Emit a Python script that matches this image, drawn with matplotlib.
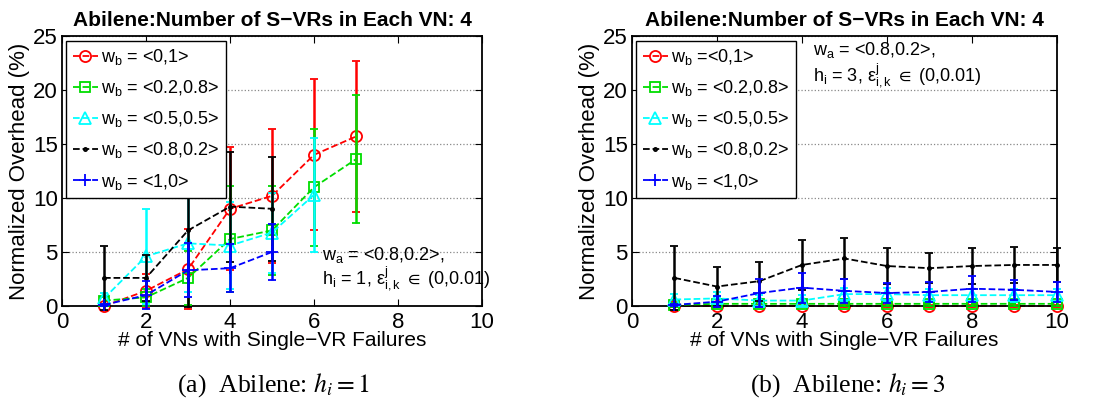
import matplotlib
matplotlib.use("Agg")
import matplotlib.pyplot as plt
from matplotlib.lines import Line2D

plt.rcParams['font.family'] = ['Liberation Sans', 'DejaVu Sans']
plt.rcParams['mathtext.fontset'] = 'custom'
plt.rcParams['mathtext.rm'] = 'Liberation Sans'
plt.rcParams['mathtext.it'] = 'Liberation Sans'
plt.rcParams['mathtext.fallback'] = 'stixsans'

# ---- panel (a): h_i = 1 ----
xa = [1, 2, 3, 4, 5, 6, 7]
a_red = [0.0, 1.4, 3.4, 9.0, 10.2, 14.0, 15.7]
a_red_err = [0.0, 1.6, 3.7, 5.7, 6.2, 7.0, 7.0]
a_green = [0.5, 0.8, 2.6, 6.2, 7.0, 11.0, 13.6]
a_green_err = [0.3, 0.8, 2.5, 4.9, 4.1, 5.4, 5.9]
a_cyan = [0.7, 4.6, 5.8, 5.6, 6.8, 10.3]
a_cyan_err = [0.5, 4.4, 4.5, 4.0, 3.7, 5.3]
a_black = [2.6, 2.6, 7.0, 9.2, 9.0]
a_black_err = [3.0, 2.1, 7.1, 5.1, 4.8]
a_blue = [0.1, 1.0, 3.3, 3.5, 5.0]
a_blue_err = [0.1, 1.3, 2.5, 2.2, 2.6]

# ---- panel (b): h_i = 3 ----
xb = [1, 2, 3, 4, 5, 6, 7, 8, 9, 10]
b_red = [0.0] * 10
b_red_err = [0.05] * 10
b_green = [0.1, 0.2, 0.2, 0.2, 0.2, 0.2, 0.2, 0.2, 0.2, 0.2]
b_green_err = [0.2, 0.2, 0.2, 0.2, 0.2, 0.2, 0.2, 0.2, 0.2, 0.2]
b_cyan = [0.6, 0.7, 0.5, 0.5, 1.1, 1.1, 1.0, 1.0, 1.0, 1.0]
b_cyan_err = [0.5, 0.6, 0.5, 0.5, 0.6, 0.6, 0.6, 0.6, 0.6, 0.6]
b_black = [2.6, 1.8, 2.3, 3.8, 4.4, 3.7, 3.5, 3.7, 3.8, 3.8]
b_black_err = [3.0, 1.8, 1.8, 2.3, 1.9, 1.7, 1.4, 1.7, 1.7, 1.6]
b_blue = [0.1, 0.4, 1.2, 1.7, 1.4, 1.2, 1.3, 1.6, 1.5, 1.3]
b_blue_err = [0.1, 0.5, 1.3, 1.4, 1.1, 0.9, 0.9, 1.2, 0.9, 0.9]

labels_a = ['w$_\\mathregular{b}$ = <0,1>', 'w$_\\mathregular{b}$ = <0.2,0.8>',
            'w$_\\mathregular{b}$ = <0.5,0.5>', 'w$_\\mathregular{b}$ = <0.8,0.2>',
            'w$_\\mathregular{b}$ = <1,0>']
labels_b = ['w$_\\mathregular{b}$ =<0,1>'] + labels_a[1:]

colors = ['#ff0000', '#00dd00', '#00ffff', '#000000', '#0000ff']
markers = ['o', 's', '^', '.', '+']
msizes = [8, 6.5, 8, 4.5, 9]

fig = plt.figure(figsize=(10.97, 4.07), dpi=100)
ax1 = fig.add_axes([0.0565, 0.2482, 0.383, 0.6633])
ax2 = fig.add_axes([0.5761, 0.2482, 0.3874, 0.6633])

panels = [
    (ax1, [xa, xa, xa[:6], xa[:5], xa[:5]],
     [a_red, a_green, a_cyan, a_black, a_blue],
     [a_red_err, a_green_err, a_cyan_err, a_black_err, a_blue_err], labels_a),
    (ax2, [xb] * 5,
     [b_red, b_green, b_cyan, b_black, b_blue],
     [b_red_err, b_green_err, b_cyan_err, b_black_err, b_blue_err], labels_b),
]

for ax, xs, ys, es, labs in panels:
    handles = []
    for i in range(5):
        ax.errorbar(xs[i], ys[i], yerr=es[i], color=colors[i], ls='--', lw=1.3,
                    marker=markers[i], ms=msizes[i], mfc='none', mew=1.3,
                    elinewidth=1.8, capsize=3, capthick=1.3,
                    clip_on=False, zorder=2 + i)
        handles.append(Line2D([], [], color=colors[i], ls='--', lw=1.3,
                              marker=markers[i], ms=msizes[i], mfc='none', mew=1.3))
    ax.set_xlim(0, 10)
    ax.set_ylim(0, 25)
    ax.set_xticks([0, 2, 4, 6, 8, 10])
    ax.set_yticks([0, 5, 10, 15, 20, 25])
    ax.yaxis.grid(True, ls=':', color='#888888', lw=0.9)
    ax.tick_params(direction='in', top=True, right=True, labelsize=16, length=5)
    ax.tick_params(axis='x', pad=4)
    ax.tick_params(axis='y', pad=3)
    for s in ax.spines.values():
        s.set_linewidth(1.3)
    ax.set_xlabel('# of VNs with Single\u2212VR Failures', fontsize=15, labelpad=-1)
    ax.set_ylabel('Normalized Overhead (%)', fontsize=16, labelpad=2)
    ax.set_title('Abilene:Number of S\u2212VRs in Each VN: 4', fontsize=15,
                 fontweight='bold', pad=7)
    leg = ax.legend(handles, labs, loc='upper left', fontsize=13, frameon=True,
                    fancybox=False, framealpha=1, edgecolor='black',
                    handlelength=1.4, handletextpad=0.15, borderaxespad=0.25,
                    labelspacing=0.62, borderpad=0.35)
    leg.get_frame().set_linewidth(1.0)
    leg.set_zorder(20)

ax1.text(6.2, 4.7, 'w$_\\mathregular{a}$ = <0.8,0.2>,', fontsize=13, va='center', zorder=21)
ax1.text(6.2, 2.5, 'h$_\\mathregular{i}$ = 1, $\\mathregular{\\epsilon^{j}_{i,k}}$ $\\in$ (0,0.01)',
         fontsize=13, va='center', zorder=21)
ax2.text(4.25, 23.7, 'w$_\\mathregular{a}$ = <0.8,0.2>,', fontsize=13, va='center', zorder=21)
ax2.text(4.25, 21.3, 'h$_\\mathregular{i}$ = 3, $\\mathregular{\\epsilon^{j}_{i,k}}$ $\\in$ (0,0.01)',
         fontsize=13, va='center', zorder=21)

cap_props = dict(fontsize=18.5, ha='center', va='center', family='Liberation Serif',
                 math_fontfamily='stix')
fig.text(0.249, 0.054, '(a)  Abilene: $h_i = 1$', **cap_props)
fig.text(0.773, 0.054, '(b)  Abilene: $h_i = 3$', **cap_props)

fig.savefig('out.png', dpi=100)
